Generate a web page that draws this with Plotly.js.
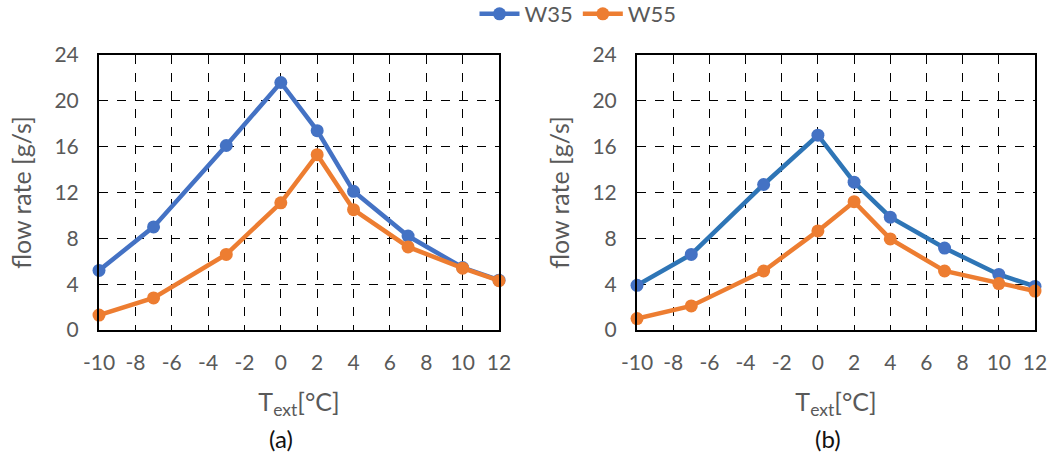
<!DOCTYPE html>
<html>
<head>
<meta charset="utf-8">
<script src="https://cdn.plot.ly/plotly-3.0.1.min.js"></script>
<style>html,body{margin:0;padding:0;background:#fff;}#chart{width:1062px;height:452px;}</style>
</head>
<body>
<div id="chart"></div>
<script>
const tempX = [-10, -7, -3, 0, 2, 4, 7, 10, 12];
const aW35 = [5.2, 9.0, 16.1, 21.6, 17.4, 12.1, 8.2, 5.45, 4.35];
const aW55 = [1.3, 2.8, 6.6, 11.1, 15.3, 10.5, 7.25, 5.4, 4.3];
const bW35 = [3.9, 6.6, 12.7, 17.0, 12.9, 9.85, 7.15, 4.85, 3.8];
const bW55 = [1.0, 2.1, 5.15, 8.65, 11.2, 7.95, 5.15, 4.05, 3.4];
const seriesNames = ["W35", "W55"];
const panelCaptions = ["(a)", "(b)"];
const xTickVals = [-10, -8, -6, -4, -2, 0, 2, 4, 6, 8, 10, 12];
const xTickLabels = ["-10", "-8", "-6", "-4", "-2", "0", "2", "4", "6", "8", "10", "12"];

const BLUE = "#4472C4", BLUE2 = "#2E75B6", ORANGE = "#ED7D31";
const FONT = "Lato, 'Open Sans', sans-serif";
const GREY = "#595959";

function tr(y, name, lineColor, markerColor, xa, ya, show) {
  return {x: tempX, y: y, name: name, type: "scatter", mode: "lines+markers",
    xaxis: xa, yaxis: ya, showlegend: show, cliponaxis: false,
    line: {color: lineColor, width: 4.5},
    marker: {color: markerColor, size: 13}};
}
const data = [
  tr(aW35, seriesNames[0], BLUE, BLUE, "x", "y", true),
  tr(aW55, seriesNames[1], ORANGE, ORANGE, "x", "y", true),
  tr(bW35, seriesNames[0], BLUE2, BLUE, "x2", "y2", false),
  tr(bW55, seriesNames[1], ORANGE, ORANGE, "x2", "y2", false)
];

function xax(domain, anchor) {
  return {domain: domain, anchor: anchor, range: [-10, 12],
    tickmode: "array", tickvals: xTickVals, ticktext: xTickLabels,
    showgrid: true, gridcolor: "#000", griddash: "dash", gridwidth: 1,
    zeroline: false, showline: true, mirror: true, linecolor: "#000", linewidth: 2,
    ticks: "", ticklabelstandoff: 13,
    tickfont: {family: FONT, size: 21, color: GREY},
    title: {text: "T<sub>ext</sub>[°C]", font: {family: FONT, size: 25, color: GREY}, standoff: 20}};
}
function yax(domain, anchor) {
  return {domain: domain, anchor: anchor, range: [0, 24], dtick: 4,
    showgrid: true, gridcolor: "#000", griddash: "dash", gridwidth: 1,
    zeroline: false, showline: true, mirror: true, linecolor: "#000", linewidth: 2,
    ticks: "", ticklabelstandoff: 14,
    tickfont: {family: FONT, size: 21, color: GREY},
    title: {text: "flow rate [g/s]", font: {family: FONT, size: 25, color: GREY}, standoff: 16}};
}
const yd = [1 - 330 / 452, 1 - 55 / 452];
const layout = {
  width: 1062, height: 452,
  margin: {l: 0, r: 0, t: 0, b: 0, autoexpand: false},
  paper_bgcolor: "#fff", plot_bgcolor: "#fff",
  font: {family: FONT, color: GREY},
  xaxis: xax([99 / 1062, 499 / 1062], "y"),
  yaxis: yax(yd, "x"),
  xaxis2: xax([637 / 1062, 1035 / 1062], "y2"),
  yaxis2: yax(yd, "x2"),
  legend: {orientation: "h", x: 578 / 1062, xanchor: "center", y: 1 - 14 / 452, yanchor: "middle",
    font: {family: FONT, size: 22, color: GREY}, itemwidth: 40},
  annotations: [
    {text: panelCaptions[0], xref: "paper", yref: "paper", x: 281 / 1062, y: 1 - 438 / 452,
      xanchor: "center", yanchor: "middle", showarrow: false, font: {family: FONT, size: 24, color: "#111"}},
    {text: panelCaptions[1], xref: "paper", yref: "paper", x: 828 / 1062, y: 1 - 438 / 452,
      xanchor: "center", yanchor: "middle", showarrow: false, font: {family: FONT, size: 24, color: "#111"}}
  ]
};
Plotly.newPlot("chart", data, layout, {staticPlot: true});
</script>
</body>
</html>
